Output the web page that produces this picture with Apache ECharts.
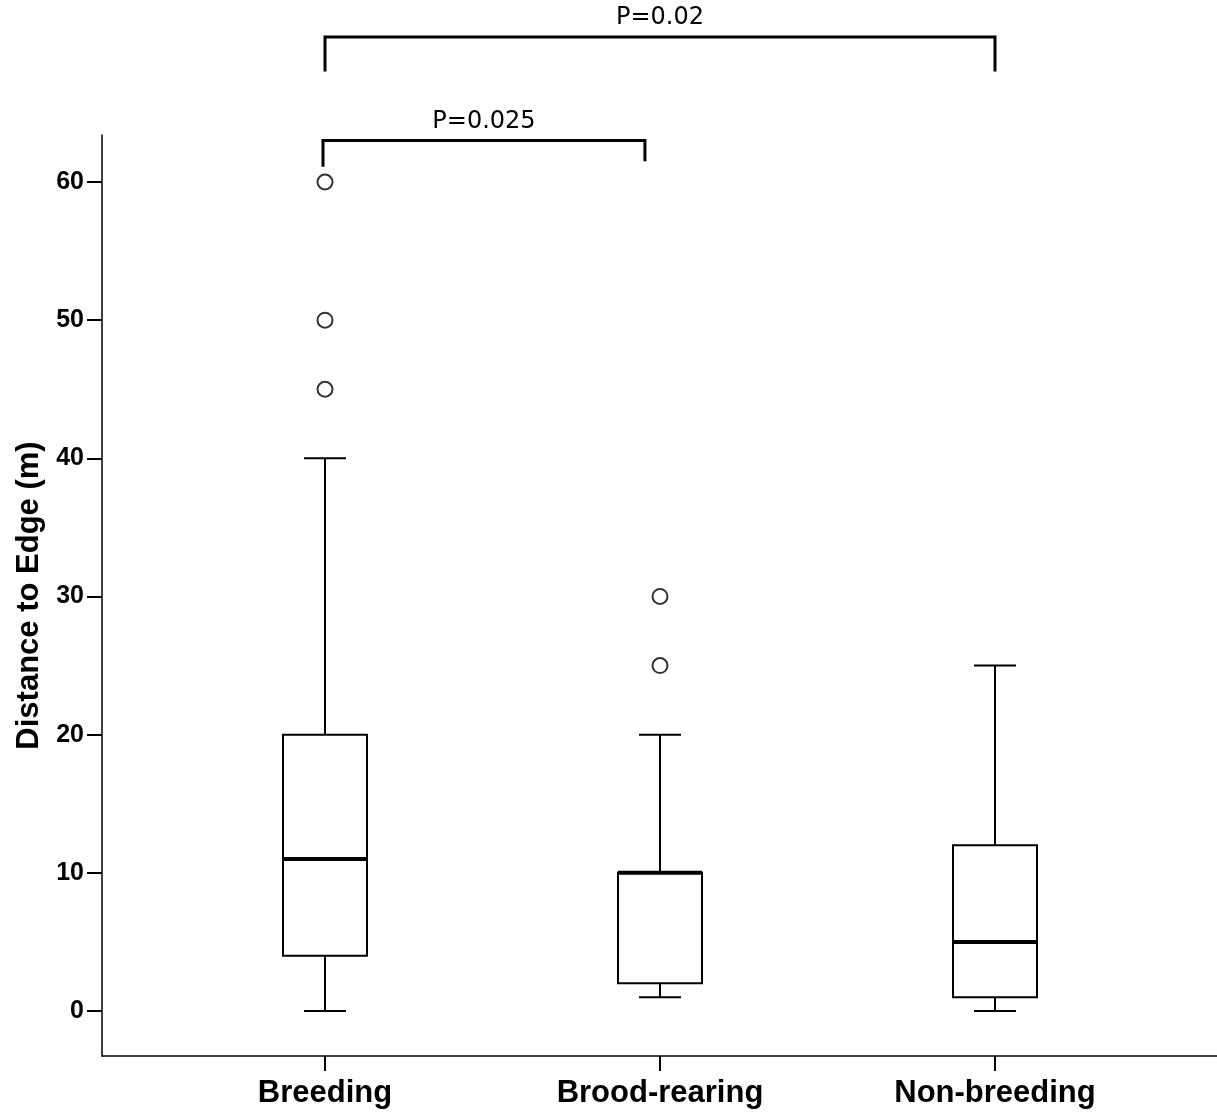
<!DOCTYPE html>
<html>
<head>
<meta charset="utf-8">
<script src="https://cdn.jsdelivr.net/npm/echarts@6/dist/echarts.min.js"></script>
<style>
html,body{margin:0;padding:0;background:#fff;}
#chart{width:1217px;height:1113px;}
</style>
</head>
<body>
<div id="chart"></div>
<script>
// ---- data ----
var categories = ['Breeding', 'Brood-rearing', 'Non-breeding'];
var boxMin    = [0, 1, 0];
var boxQ1     = [4, 2, 1];
var boxMedian = [11, 10, 5];
var boxQ3     = [20, 10, 12];
var boxMax    = [40, 20, 25];
// outliers: [category index, value]
var outliers = [[0, 45], [0, 50], [0, 60], [1, 25], [1, 30]];
var yTicks = [0, 10, 20, 30, 40, 50, 60];
// significance brackets: [from x, to x, bar y, left drop y, right drop y, label]
var brackets = [
  [1, 3, 70.5, 68.0, 68.0, 'P=0.02'],
  [0.994, 1.955, 63.0, 61.1, 61.5, 'P=0.025']
];

var boxData = categories.map(function (c, i) {
  return [i + 1, boxMin[i], boxQ1[i], boxMedian[i], boxQ3[i], boxMax[i]];
});
var outlierData = outliers.map(function (o) { return [o[0] + 1, o[1]]; });

var chart = echarts.init(document.getElementById('chart'));
var BOX_W = 84, CAP_W = 42;

chart.setOption({
  backgroundColor: '#fff',
  animation: false,
  grid: { left: 102, right: 0, top: 135, bottom: 57, outerBoundsMode: 'none', containLabel: false },
  xAxis: {
    type: 'value',
    min: 0.3343, max: 3.6627,
    splitLine: { show: false },
    axisLine: { show: true, onZero: false, lineStyle: { color: '#000', width: 1.5 } },
    axisTick: { show: true, customValues: [1, 2, 3], length: 15, lineStyle: { color: '#000', width: 2 } },
    axisLabel: {
      customValues: [1, 2, 3],
      formatter: function (v) { return categories[Math.round(v) - 1]; },
      color: '#000', fontFamily: 'Liberation Sans', fontWeight: 'bold', fontSize: 31, margin: 22
    }
  },
  yAxis: {
    type: 'value',
    min: -3.26, max: 63.4,
    name: 'Distance to Edge (m)',
    nameLocation: 'middle',
    nameGap: 57,
    nameTextStyle: { color: '#000', fontFamily: 'Liberation Sans', fontWeight: 'bold', fontSize: 31 },
    splitLine: { show: false },
    axisLine: { show: true, onZero: false, lineStyle: { color: '#000', width: 1.5 } },
    axisTick: { show: true, customValues: yTicks, length: 15, lineStyle: { color: '#000', width: 2 } },
    axisLabel: {
      customValues: yTicks,
      color: '#000', fontFamily: 'Liberation Sans', fontWeight: 'bold', fontSize: 25, margin: 18
    }
  },
  series: [
    {
      type: 'custom',
      data: boxData,
      clip: false,
      renderItem: function (params, api) {
        var x = api.value(0);
        var pMin = api.coord([x, api.value(1)]);
        var pQ1 = api.coord([x, api.value(2)]);
        var pMed = api.coord([x, api.value(3)]);
        var pQ3 = api.coord([x, api.value(4)]);
        var pMax = api.coord([x, api.value(5)]);
        var cx = pMin[0];
        var ls = { stroke: '#000', lineWidth: 2, fill: null };
        return {
          type: 'group',
          children: [
            { type: 'line', shape: { x1: cx, y1: pMax[1], x2: cx, y2: pQ3[1] }, style: ls },
            { type: 'line', shape: { x1: cx, y1: pQ1[1], x2: cx, y2: pMin[1] }, style: ls },
            { type: 'line', shape: { x1: cx - CAP_W / 2, y1: pMax[1], x2: cx + CAP_W / 2, y2: pMax[1] }, style: ls },
            { type: 'line', shape: { x1: cx - CAP_W / 2, y1: pMin[1], x2: cx + CAP_W / 2, y2: pMin[1] }, style: ls },
            { type: 'rect', shape: { x: cx - BOX_W / 2, y: pQ3[1], width: BOX_W, height: pQ1[1] - pQ3[1] },
              style: { stroke: '#000', lineWidth: 2, fill: '#fff' } },
            { type: 'line', shape: { x1: cx - BOX_W / 2, y1: pMed[1], x2: cx + BOX_W / 2, y2: pMed[1] },
              style: { stroke: '#000', lineWidth: 4 } }
          ]
        };
      }
    },
    {
      type: 'scatter',
      data: outlierData,
      symbol: 'emptyCircle',
      symbolSize: 15,
      itemStyle: { color: '#000', borderColor: '#000', borderWidth: 2.5 },
      z: 5
    },
    {
      type: 'custom',
      data: brackets,
      clip: false,
      renderItem: function (params, api) {
        var b = brackets[params.dataIndex];
        var pL = api.coord([b[0], b[2]]);
        var pR = api.coord([b[1], b[2]]);
        var dL = api.coord([b[0], b[3]]);
        var dR = api.coord([b[1], b[4]]);
        var st = { stroke: '#000', lineWidth: 3, fill: null };
        return {
          type: 'group',
          children: [
            { type: 'polyline', shape: { points: [[dL[0], dL[1]], [pL[0], pL[1]], [pR[0], pR[1]], [dR[0], dR[1]]] }, style: st },
            { type: 'text', x: (pL[0] + pR[0]) / 2, y: pL[1] - 7,
              style: { text: b[5], textAlign: 'center', textVerticalAlign: 'bottom',
                       fill: '#000', font: '24px "DejaVu Sans"' } }
          ]
        };
      }
    }
  ]
});
</script>
</body>
</html>
